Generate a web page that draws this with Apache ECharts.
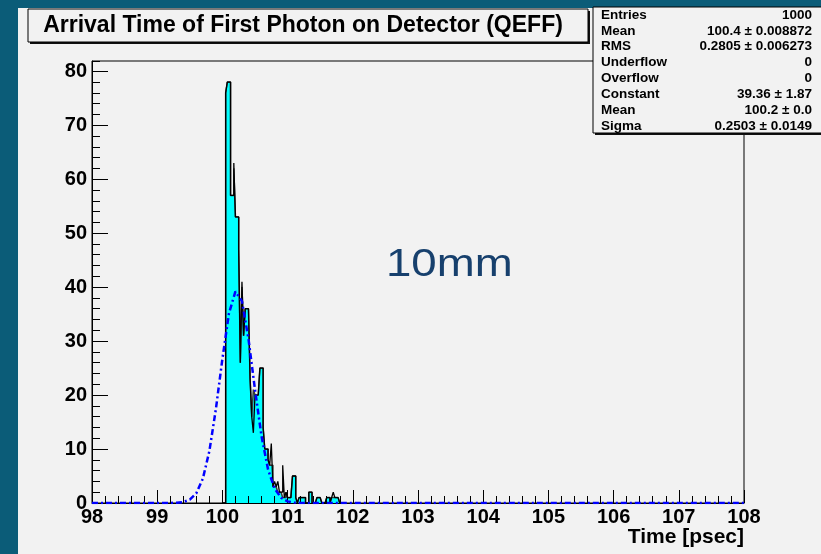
<!DOCTYPE html>
<html><head><meta charset="utf-8">
<script src="https://cdn.jsdelivr.net/npm/echarts@6/dist/echarts.min.js"></script>
<style>html,body{margin:0;padding:0;background:#f2f2f2;}#c{width:821px;height:554px;}</style>
</head><body><div id="c"></div>
<script>
// ---- data ----
const binStart = 100.0;      // psec, left edge of first listed bin
const binWidth = 0.025;      // psec
// filled (cyan) histogram counts per bin, starting at binStart
const fillCounts = [0,0,76,78,78,57,57,62,53,53,47,26,40,31,36,36,36,23,16,21,20,20,20,25,25,14,10,10,8,7,7,
  3,3,3,2,2,2,1,1,2,1,1,1,5,5,1,0,1,1,1,1,0,0,2,2,0,0,0,1,1,1,0,0,0,1,1,0,1,1,1,1,1,0];
// black outline histogram counts per bin
const lineCounts = [0,0,76,78,78,57,57,63,53,53,47,26,41,31,36,36,36,23,16,13,20,20,20,25,25,14,10,10,8,7,11,
  3,4,3,4,2,2,7,1,2,1,1,1,5,5,1,0,1,1,1,1,0,0,2,2,0,0,0,1,1,1,0,0,0,1,1,0,1,2,1,1,1,0];
// gaussian fit curve points
const fitX = [98,99.2,99.3,99.4,99.5,99.6,99.7,99.8,99.9,100.0,100.1,100.2,100.3,100.4,100.5,100.6,100.7,100.8,100.9,101.0,101.1,101.2,108];
const fitY = [0,0.01,0.05,0.18,0.62,1.8,4.5,9.6,17.4,26.7,35.1,39.2,37.4,30.4,21.0,12.4,6.2,2.7,0.97,0.30,0.08,0.02,0];
const xMin = 98, xMax = 108, yMax = 81.9;
const titleText = 'Arrival Time of First Photon on Detector (QEFF)';
const xAxisTitle = 'Time [psec]';
const annotation = '10mm';
const statsLabels = ['Entries','Mean','RMS','Underflow','Overflow','Constant','Mean','Sigma'];
const statsValues = ['1000','100.4 \u00b1 0.008872','0.2805 \u00b1 0.006273','0','0','39.36 \u00b1 1.87','100.2 \u00b1 0.0','0.2503 \u00b1 0.0149'];

// ---- build ----
function stepData(counts){
  const d = [[binStart,0]];
  counts.forEach((c,i)=>d.push([+(binStart+i*binWidth).toFixed(4), c]));
  d.push([+(binStart+counts.length*binWidth).toFixed(4), 0]);
  return d;
}
const FONT = "'Liberation Sans', Arial, Helvetica, sans-serif";
const chart = echarts.init(document.getElementById('c'), null, {renderer:'canvas'});

const statsGraphics = [];
const rowY0 = 15, rowStep = 15.85;
statsLabels.forEach((t,i)=>{
  statsGraphics.push({type:'text', z:101, style:{x:601, y:rowY0+i*rowStep, text:t, font:'bold 13.5px '+FONT, fill:'#000', textAlign:'left', textVerticalAlign:'middle'}});
  statsGraphics.push({type:'text', z:101, style:{x:812, y:rowY0+i*rowStep, text:statsValues[i], font:'bold 13.5px '+FONT, fill:'#000', textAlign:'right', textVerticalAlign:'middle'}});
});

chart.setOption({
  animation:false,
  backgroundColor:'#f2f2f2',
  grid:{left:92, right:77, top:61, bottom:51, show:true, borderColor:'#000', borderWidth:1, backgroundColor:'transparent'},
  xAxis:{type:'value', min:xMin, max:xMax, interval:1, z:5,
    axisLine:{show:true, onZero:false, lineStyle:{color:'#000', width:1}},
    axisTick:{show:true, inside:true, length:13, lineStyle:{color:'#000', width:1}},
    minorTick:{show:true, splitNumber:5, length:7, lineStyle:{color:'#000', width:1}},
    axisLabel:{fontSize:20, fontWeight:'bold', color:'#000', fontFamily:FONT, margin:4},
    splitLine:{show:false}, minorSplitLine:{show:false}},
  yAxis:[
    {type:'value', min:0, max:yMax, interval:2, position:'left', z:5,
      axisLine:{show:true, lineStyle:{color:'#000', width:1}},
      axisTick:{show:true, inside:true, length:8, lineStyle:{color:'#000', width:1}},
      axisLabel:{show:false}, splitLine:{show:false}},
    {type:'value', min:0, max:yMax, interval:10, position:'left', z:5,
      axisLine:{show:false},
      axisTick:{show:true, inside:true, length:16, lineStyle:{color:'#000', width:1}},
      axisLabel:{fontSize:20, fontWeight:'bold', color:'#000', fontFamily:FONT, margin:5, showMaxLabel:false,
        formatter:v=> (Math.abs(v%10)<1e-9 ? String(v) : '')},
      splitLine:{show:false}}
  ],
  series:[
    {type:'line', name:'fill', step:'end', data:stepData(fillCounts), yAxisIndex:0, symbol:'none', z:2,
      lineStyle:{color:'#3a3a3a', width:1.5}, areaStyle:{color:'#00ffff', opacity:1}},
    {type:'line', name:'outline', step:'end', data:stepData(lineCounts), yAxisIndex:0, symbol:'none', z:3,
      lineStyle:{color:'#000', width:1.3}},
    {type:'line', name:'fit', data:fitX.map((x,i)=>[x,fitY[i]]), yAxisIndex:0, symbol:'none', z:10, smooth:false,
      lineStyle:{color:'#0000ff', width:2.5, type:[6,3,2,3]}}
  ],
  graphic:[
    {type:'rect', z:-10, silent:true, shape:{x:0, y:0, width:18, height:554}, style:{fill:'#0b5c78'}},
    {type:'rect', z:-10, silent:true, shape:{x:0, y:0, width:821, height:8}, style:{fill:'#0b5c78'}},
    // title box
    {type:'rect', z:99, shape:{x:30, y:11, width:560, height:33}, style:{fill:'#111'}},
    {type:'rect', z:100, shape:{x:28, y:9, width:560, height:33}, style:{fill:'#f2f2f2', stroke:'#000', lineWidth:1}},
    {type:'text', z:101, style:{x:303, y:26, text:titleText, font:'bold 23px '+FONT, fill:'#000', textAlign:'center', textVerticalAlign:'middle'}},
    // stats box
    {type:'rect', z:99, shape:{x:595, y:9, width:240, height:126}, style:{fill:'#111'}},
    {type:'rect', z:100, shape:{x:593, y:7, width:240, height:126}, style:{fill:'#f2f2f2', stroke:'#000', lineWidth:1}},
    ...statsGraphics,
    // axis title and annotation
    {type:'text', z:101, style:{x:744, y:537, text:xAxisTitle, font:'bold 21px '+FONT, fill:'#000', textAlign:'right', textVerticalAlign:'middle'}},
    {type:'text', z:101, x:386, y:266, scaleX:1.2, style:{x:0, y:0, text:annotation, font:'38px '+FONT, fill:'#17406d', textAlign:'left', textVerticalAlign:'middle'}}
  ]
});
</script></body></html>
